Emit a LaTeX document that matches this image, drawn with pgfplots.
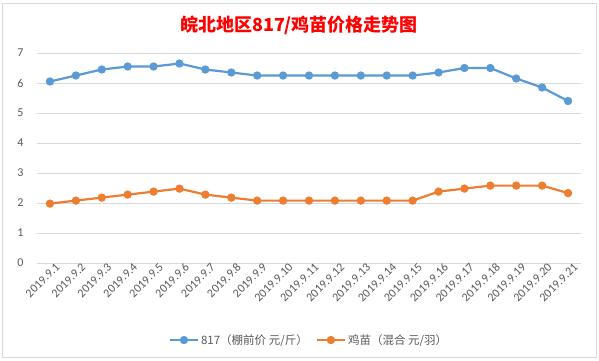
\documentclass[border=0pt]{standalone}
\usepackage{pgfplots}
\pgfplotsset{compat=1.18}
\usepackage{fontspec}
\setmainfont{Carlito}
\newfontfamily\cjk{Noto Sans CJK SC}
\definecolor{sblue}{HTML}{5B9BD5}
\definecolor{sorange}{HTML}{ED7D31}
\definecolor{txtgray}{HTML}{595959}
\definecolor{gridgray}{HTML}{D9D9D9}
\begin{document}
\begin{tikzpicture}[x=1pt,y=1pt]
\useasboundingbox (-37,-97) rectangle (562,263);
\fill[white] (-37,-97) rectangle (562,263);
\draw[gridgray, line width=0.8pt] (-35,-94) rectangle (559,260);
\begin{axis}[
  at={(0,0)}, anchor=south west,
  scale only axis, width=544pt, height=210pt,
  xmin=-0.5, xmax=20.5, ymin=0, ymax=7,
  xtick={0,...,20},
  xticklabels={2019.9.1,2019.9.2,2019.9.3,2019.9.4,2019.9.5,2019.9.6,2019.9.7,2019.9.8,2019.9.9,2019.9.10,2019.9.11,2019.9.12,2019.9.13,2019.9.14,2019.9.15,2019.9.16,2019.9.17,2019.9.18,2019.9.19,2019.9.20,2019.9.21},
  ytick={0,...,7},
  axis line style={draw=none},
  major tick length=0pt,
  ymajorgrids, grid style={gridgray, line width=0.8pt},
  xticklabel style={rotate=45, anchor=east, font=\fontsize{12}{14}\selectfont, text=txtgray, xshift=5pt, yshift=-7pt, inner sep=1pt},
  yticklabel style={font=\fontsize{12}{14}\selectfont, text=txtgray, xshift=-10pt},
  /pgf/number format/assume math mode=true,
  legend style={at={(0.5,-0.367)}, anchor=center, draw=none, fill=none,
    font=\cjk\fontsize{11.5}{13}\selectfont, text=txtgray, legend columns=2,
    /tikz/every even column/.append style={column sep=6pt}},
  legend image code/.code={
    \draw[#1, mark repeat=2, mark phase=2] plot coordinates {(0pt,0pt) (14pt,0pt) (28pt,0pt)};},
]
\addplot[sblue, line width=2.2pt, mark=*, mark size=3pt, mark options={solid}] coordinates {
(0,6.05)(1,6.25)(2,6.45)(3,6.55)(4,6.55)(5,6.65)(6,6.45)(7,6.35)(8,6.25)(9,6.25)(10,6.25)(11,6.25)(12,6.25)(13,6.25)(14,6.25)(15,6.35)(16,6.5)(17,6.5)(18,6.15)(19,5.85)(20,5.4)};
\addlegendentry{817（棚前价 元/斤）}
\addplot[sorange, line width=2.2pt, mark=*, mark size=3pt, mark options={solid}] coordinates {
(0,1.98)(1,2.08)(2,2.18)(3,2.28)(4,2.38)(5,2.48)(6,2.28)(7,2.18)(8,2.08)(9,2.08)(10,2.08)(11,2.08)(12,2.08)(13,2.08)(14,2.08)(15,2.38)(16,2.48)(17,2.58)(18,2.58)(19,2.58)(20,2.33)};
\addlegendentry{鸡苗（混合 元/羽）}
\end{axis}
\node[text=red, font=\cjk\bfseries\fontsize{18}{20}\selectfont] at (262,238) {皖北地区817/鸡苗价格走势图};
\end{tikzpicture}
\end{document}
